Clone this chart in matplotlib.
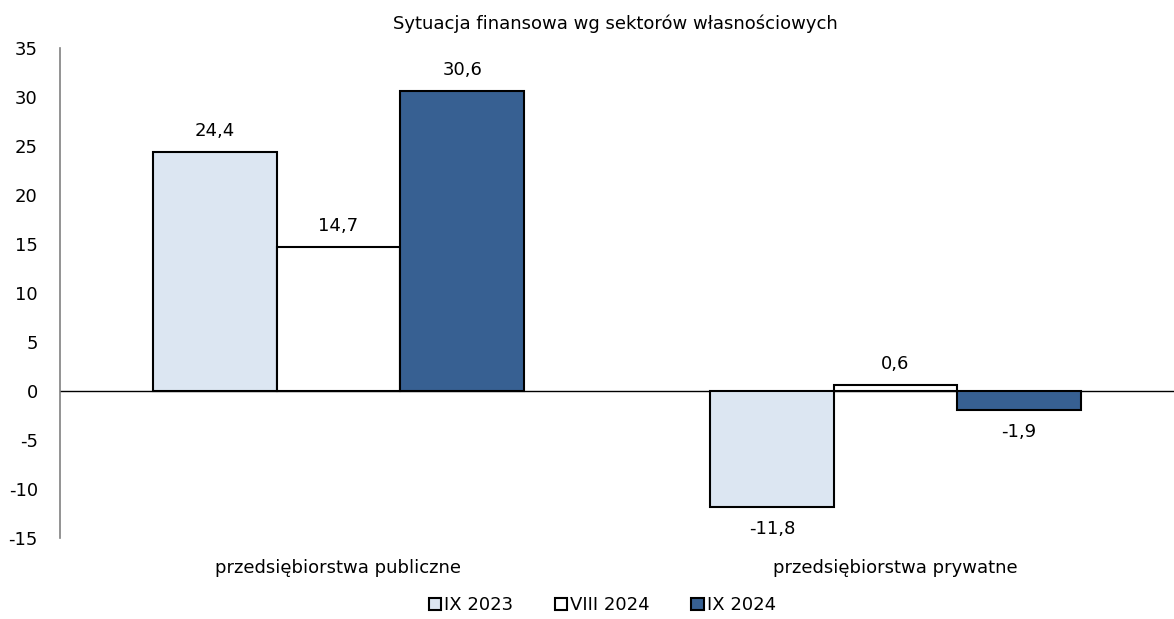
import matplotlib.pyplot as plt
import numpy as np

categories = ["przedsiębiorstwa publiczne", "przedsiębiorstwa prywatne"]
series_names = ["IX 2023", "VIII 2024", "IX 2024"]
ix_2023 = [24.4, -11.8]
viii_2024 = [14.7, 0.6]
ix_2024 = [30.6, -1.9]
y_ticks = [-15, -10, -5, 0, 5, 10, 15, 20, 25, 30, 35]

colors = ["#DCE6F2", "#FFFFFF", "#376092"]

if __name__ == "__main__":
    plt.rcParams['font.family'] = ['DejaVu Sans']
    fig = plt.figure(figsize=(11.74, 6.19), dpi=100)
    ax = fig.add_axes([0.0511, 0.1309, 0.9489, 0.7916])

    x = np.arange(len(categories))
    width = 0.222
    for i, (vals, name) in enumerate(zip([ix_2023, viii_2024, ix_2024], series_names)):
        pos = x + (i - 1) * width
        ax.bar(pos, vals, width, color=colors[i], edgecolor="black",
               linewidth=1.5, label=name, zorder=3)
        for px, v in zip(pos, vals):
            ax.annotate(f"{v:.1f}".replace(".", ","), (px, v),
                        xytext=(0, 15 if v >= 0 else -16), textcoords="offset points",
                        ha="center", va="center", fontsize=13)

    ax.axhline(0, color="black", linewidth=1, zorder=2)
    ax.set_xlim(-0.5, 1.5)
    ax.set_ylim(-15, 35)
    ax.set_yticks(y_ticks)
    ax.set_yticklabels([str(t) for t in y_ticks], fontsize=13)
    ax.tick_params(axis="y", length=0, pad=16)
    ax.set_xticks(x)
    ax.set_xticklabels(categories, fontsize=13)
    ax.tick_params(axis="x", length=0, pad=15)
    for s in ["top", "right", "bottom"]:
        ax.spines[s].set_visible(False)
    ax.spines["left"].set_color("#808080")
    ax.spines["left"].set_linewidth(1.2)

    fig.text(0.524, 0.962, "Sytuacja finansowa wg sektorów własnościowych",
             ha="center", va="center", fontsize=13)

    fig.legend(loc="center", bbox_to_anchor=(0.513, 0.022), ncol=3, frameon=False,
               fontsize=13, handlelength=0.7, handleheight=0.7, handletextpad=0.15,
               columnspacing=2.3)

    fig.savefig("out.png", dpi=100)
